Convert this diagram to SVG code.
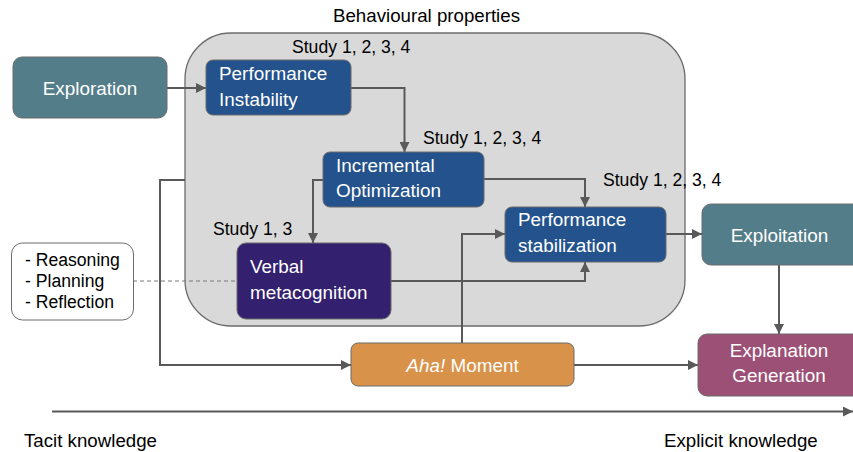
<svg xmlns="http://www.w3.org/2000/svg" width="853" height="452" viewBox="0 0 853 452">
<defs>
<marker id="ah" viewBox="0 0 10 10" refX="10" refY="5" markerWidth="10" markerHeight="10" markerUnits="userSpaceOnUse" orient="auto">
<path d="M0,0 L10,5 L0,10 z" fill="#595959"/>
</marker>
<style>
text{font-family:"Liberation Sans",Arial,sans-serif;}
.lbl{font-size:17.6px;fill:#000;}
.nt{font-size:18.9px;fill:#fff;}
.ax{font-size:18.7px;fill:#000;}
.node{stroke:#6b6b6b;stroke-width:1;}
.conn{fill:none;stroke:#595959;stroke-width:2;}
</style>
</defs>
<rect width="853" height="452" fill="#fff"/>
<g id="container">
<rect x="185" y="33" width="500" height="293" rx="46" fill="#d9d9d9" stroke="#6b6b6b" stroke-width="1.3"/>
<text class="ax" x="333" y="22">Behavioural properties</text>
</g>
<g id="connectors">
<path class="conn" d="M167,88 H206" marker-end="url(#ah)"/>
<path class="conn" d="M351,88 H404.5 V152" marker-end="url(#ah)"/>
<path class="conn" d="M484,179 H585 V207" marker-end="url(#ah)"/>
<path class="conn" d="M323,180 H313 V243" marker-end="url(#ah)"/>
<path class="conn" d="M391,281 H585 V262" marker-end="url(#ah)"/>
<path class="conn" d="M462,343 V234 H505" marker-end="url(#ah)"/>
<path class="conn" d="M666,234 H702" marker-end="url(#ah)"/>
<path class="conn" d="M779,265 V334" marker-end="url(#ah)"/>
<path class="conn" d="M574,365 H698" marker-end="url(#ah)"/>
<path class="conn" d="M185,180 H160 V365 H351" marker-end="url(#ah)"/>
<path d="M133,281 H237" fill="none" stroke="#7a7a7a" stroke-width="1.2" stroke-dasharray="4,3"/>
<path class="conn" d="M52,411.5 H853" marker-end="url(#ah)"/>
</g>
<g id="exploration">
<rect class="node" x="13" y="57" width="154" height="61" rx="9" fill="#547d8a"/>
<text class="nt" x="90" y="95" text-anchor="middle">Exploration</text>
</g>
<g id="performance-instability">
<rect class="node" x="206" y="60" width="145" height="55" rx="7" fill="#23528c"/>
<text class="nt" x="219" y="80">Performance</text>
<text class="nt" x="219" y="106">Instability</text>
<text class="lbl" x="292" y="53">Study 1, 2, 3, 4</text>
</g>
<g id="incremental-optimization">
<rect class="node" x="323" y="152" width="161" height="55" rx="7" fill="#23528c"/>
<text class="nt" x="336" y="172">Incremental</text>
<text class="nt" x="336" y="197">Optimization</text>
<text class="lbl" x="423" y="144">Study 1, 2, 3, 4</text>
</g>
<g id="performance-stabilization">
<rect class="node" x="505" y="207" width="161" height="55" rx="7" fill="#23528c"/>
<text class="nt" x="518" y="226">Performance</text>
<text class="nt" x="518" y="252">stabilization</text>
<text class="lbl" x="603" y="186">Study 1, 2, 3, 4</text>
</g>
<g id="verbal-metacognition">
<rect class="node" x="237" y="243" width="154" height="76" rx="9" fill="#33206e"/>
<text class="nt" x="250" y="273">Verbal</text>
<text class="nt" x="250" y="299">metacognition</text>
<text class="lbl" x="213" y="235">Study 1, 3</text>
</g>
<g id="reasoning">
<rect x="11.5" y="243" width="122" height="77" rx="11" fill="#fff" stroke="#6b6b6b" stroke-width="1"/>
<text class="lbl" x="25" y="266">- Reasoning</text>
<text class="lbl" x="25" y="287">- Planning</text>
<text class="lbl" x="25" y="308">- Reflection</text>
</g>
<g id="exploitation">
<rect class="node" x="702" y="204" width="160" height="61" rx="9" fill="#547d8a"/>
<text class="nt" x="779.5" y="242" text-anchor="middle">Exploitation</text>
</g>
<g id="aha-moment">
<rect class="node" x="351" y="343" width="223" height="43" rx="7" fill="#d9924a"/>
<text class="nt" x="462.5" y="372" text-anchor="middle"><tspan font-style="italic">Aha!</tspan> Moment</text>
</g>
<g id="explanation-generation">
<rect class="node" x="698" y="334" width="164" height="62" rx="9" fill="#9c5075"/>
<text class="nt" x="779" y="357" text-anchor="middle">Explanation</text>
<text class="nt" x="779" y="382" text-anchor="middle">Generation</text>
</g>
<g id="axis-labels">
<text class="ax" x="24" y="447">Tacit knowledge</text>
<text class="ax" x="664" y="447">Explicit knowledge</text>
</g>
</svg>
